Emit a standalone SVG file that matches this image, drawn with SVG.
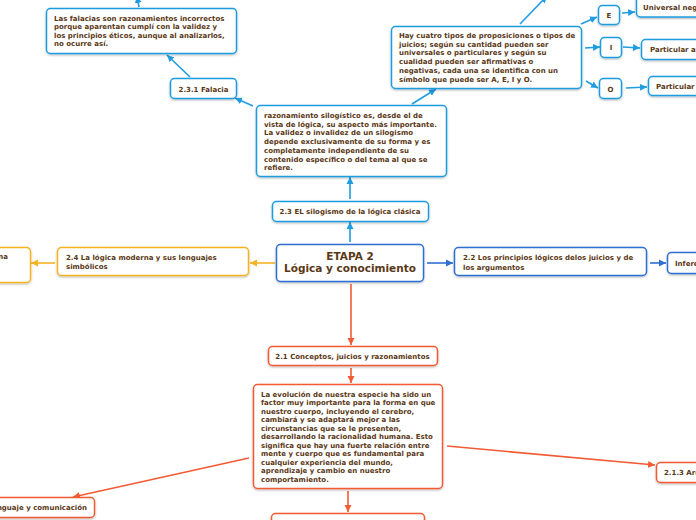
<svg xmlns="http://www.w3.org/2000/svg" width="696" height="520" viewBox="0 0 696 520">
<style>
.t{font-family:"DejaVu Sans",Verdana,sans-serif;font-weight:bold;font-size:7px;fill:#5a3816}
.c{text-anchor:middle}
.big{font-size:10.5px}
rect{fill:#fff;stroke-width:1.5;filter:url(#sh)}
.sky rect{stroke:#1e9de0}
.blu rect{stroke:#2f6fd2}
.gld rect{stroke:#f5b324}
.red rect{stroke:#f25b34}
#connectors line{stroke-width:1.6;fill:none}
.ls{stroke:#1e9de0;marker-end:url(#ms)}
.lb{stroke:#2f6fd2;marker-end:url(#mb)}
.lg{stroke:#f5b324;marker-end:url(#mg)}
.lr{stroke:#f25b34;marker-end:url(#mr)}
</style>
<defs>
<filter id="sh" x="-10%" y="-20%" width="120%" height="150%"><feDropShadow dx="0" dy="1" stdDeviation="0.8" flood-color="#000" flood-opacity="0.3"/></filter>
<marker id="ms" markerUnits="userSpaceOnUse" markerWidth="8" markerHeight="8" refX="7" refY="4" orient="auto"><path d="M0,0.5 L7,4 L0,7.5 z" fill="#1e9de0"/></marker>
<marker id="mb" markerUnits="userSpaceOnUse" markerWidth="8" markerHeight="8" refX="7" refY="4" orient="auto"><path d="M0,0.5 L7,4 L0,7.5 z" fill="#2f6fd2"/></marker>
<marker id="mg" markerUnits="userSpaceOnUse" markerWidth="8" markerHeight="8" refX="7" refY="4" orient="auto"><path d="M0,0.5 L7,4 L0,7.5 z" fill="#f5b324"/></marker>
<marker id="mr" markerUnits="userSpaceOnUse" markerWidth="8" markerHeight="8" refX="7" refY="4" orient="auto"><path d="M0,0.5 L7,4 L0,7.5 z" fill="#f25b34"/></marker>
</defs>
<g id="connectors">
<line class="lb" x1="427" y1="263" x2="453" y2="263"/>
<line class="lb" x1="650" y1="263" x2="666" y2="263"/>
<line class="ls" x1="350" y1="242" x2="350" y2="222"/>
<line class="ls" x1="350" y1="199" x2="350" y2="177"/>
<line class="ls" x1="253" y1="106" x2="235" y2="98"/>
<line class="ls" x1="190" y1="77" x2="167" y2="55"/>
<line class="ls" x1="139" y1="7" x2="137" y2="-4"/>
<line class="ls" x1="412" y1="104" x2="436" y2="89"/>
<line class="ls" x1="520" y1="24" x2="547" y2="-4"/>
<line class="ls" x1="581" y1="24" x2="597" y2="17"/>
<line class="ls" x1="585" y1="48" x2="600" y2="47"/>
<line class="ls" x1="586" y1="81" x2="598" y2="88"/>
<line class="ls" x1="622" y1="13" x2="635" y2="12"/>
<line class="ls" x1="623" y1="47" x2="640" y2="48"/>
<line class="ls" x1="626" y1="88" x2="647" y2="87"/>
<line class="lg" x1="275" y1="263" x2="250" y2="263"/>
<line class="lg" x1="55" y1="263" x2="31" y2="263"/>
<line class="lr" x1="351" y1="284" x2="351" y2="345"/>
<line class="lr" x1="351" y1="368" x2="351" y2="383"/>
<line class="lr" x1="348" y1="491" x2="348" y2="512"/>
<line class="lr" x1="249" y1="458" x2="73" y2="497"/>
<line class="lr" x1="447" y1="446" x2="655" y2="465"/>
</g>
<g id="central" class="blu">
<rect x="276.5" y="244.5" width="147" height="37" rx="4"/>
<text class="t c big" x="350" y="260">ETAPA 2</text>
<text class="t c big" x="350" y="272">Lógica y conocimiento</text>
</g>
<g id="n22" class="blu">
<rect x="454.5" y="247.5" width="192" height="28" rx="4"/>
<text class="t" x="463" y="260">2.2 Los principios lógicos delos juicios y de</text>
<text class="t" x="463" y="270">los argumentos</text>
</g>
<g id="ninfer" class="blu">
<rect x="667.5" y="252.5" width="40" height="21" rx="4"/>
<text class="t" x="675" y="266">Inferencia</text>
</g>
<g id="n23" class="sky">
<rect x="272.5" y="201.5" width="156" height="20" rx="4"/>
<text class="t c" x="350" y="214">2.3 EL silogismo de la lógica clásica</text>
</g>
<g id="nsilog" class="sky">
<rect x="256.5" y="105.5" width="190" height="71" rx="4"/>
<text class="t" x="264" y="118">razonamiento silogístico es, desde el de</text>
<text class="t" x="264" y="126.7">vista de lógica, su aspecto más importante.</text>
<text class="t" x="264" y="135.4">La validez o invalidez de un silogismo</text>
<text class="t" x="264" y="144.1">depende exclusivamente de su forma y es</text>
<text class="t" x="264" y="152.8">completamente independiente de su</text>
<text class="t" x="264" y="161.5">contenido específico o del tema al que se</text>
<text class="t" x="264" y="170.2">refiere.</text>
</g>
<g id="n231" class="sky">
<rect x="170.5" y="78.5" width="66" height="20" rx="4"/>
<text class="t c" x="203.5" y="91.5">2.3.1 Falacia</text>
</g>
<g id="nfalacias" class="sky">
<rect x="46.5" y="8.5" width="190" height="45" rx="4"/>
<text class="t" x="54" y="20.5">Las falacias son razonamientos incorrectos</text>
<text class="t" x="54" y="29">porque aparentan cumplí con la validez y</text>
<text class="t" x="54" y="37.5">los principios éticos, aunque al analizarlos,</text>
<text class="t" x="54" y="46">no ocurre así.</text>
</g>
<g id="ncuatro" class="sky">
<rect x="391.5" y="26.5" width="190" height="62" rx="4"/>
<text class="t" x="399" y="38">Hay cuatro tipos de proposiciones o tipos de</text>
<text class="t" x="399" y="46.7">juicios; según su cantidad pueden ser</text>
<text class="t" x="399" y="55.4">universales o particulares y según su</text>
<text class="t" x="399" y="64.1">cualidad pueden ser afirmativas o</text>
<text class="t" x="399" y="72.8">negativas, cada una se identifica con un</text>
<text class="t" x="399" y="81.5">símbolo que puede ser A, E, I y O.</text>
</g>
<g id="nE" class="sky">
<rect x="598.5" y="5.5" width="21" height="19" rx="4"/>
<text class="t c" x="609" y="17.5">E</text>
</g>
<g id="nI" class="sky">
<rect x="600.5" y="37.5" width="21" height="20" rx="4"/>
<text class="t c" x="611" y="50">I</text>
</g>
<g id="nO" class="sky">
<rect x="599.5" y="78.5" width="22" height="20" rx="4"/>
<text class="t c" x="610.5" y="91.5">O</text>
</g>
<g id="nUN" class="sky">
<rect x="636.5" y="-5" width="80" height="22" rx="4"/>
<text class="t" x="643" y="10">Universal negativa</text>
</g>
<g id="nPA" class="sky">
<rect x="641.5" y="39.5" width="80" height="20" rx="4"/>
<text class="t" x="650" y="52">Particular afirmativa</text>
</g>
<g id="nPN" class="sky">
<rect x="648.5" y="76.5" width="80" height="19" rx="4"/>
<text class="t" x="656" y="89">Particular negativa</text>
</g>
<g id="n24" class="gld">
<rect x="57.5" y="247.5" width="191" height="28" rx="4"/>
<text class="t" x="66" y="259.5">2.4 La lógica moderna y sus lenguajes</text>
<text class="t" x="66" y="268.5">simbólicos</text>
</g>
<g id="nleft" class="gld">
<rect x="-20" y="247.5" width="50.5" height="35" rx="4"/>
<text class="t" x="8" y="259" text-anchor="end">na</text>
</g>
<g id="n21" class="red">
<rect x="268.5" y="346.5" width="169" height="19" rx="4"/>
<text class="t c" x="352.5" y="358.5">2.1 Conceptos, juicios y razonamientos</text>
</g>
<g id="nevol" class="red">
<rect x="253.5" y="384.5" width="189" height="104" rx="4"/>
<text class="t" x="261" y="396.5">La evolución de nuestra especie ha sido un</text>
<text class="t" x="261" y="405">factor muy importante para la forma en que</text>
<text class="t" x="261" y="413.5">nuestro cuerpo, incluyendo el cerebro,</text>
<text class="t" x="261" y="422">cambiará y se adaptará mejor a las</text>
<text class="t" x="261" y="430.5">circunstancias que se le presenten,</text>
<text class="t" x="261" y="439">desarrollando la racionalidad humana. Esto</text>
<text class="t" x="261" y="447.5">significa que hay una fuerte relación entre</text>
<text class="t" x="261" y="456">mente y cuerpo que es fundamental para</text>
<text class="t" x="261" y="464.5">cualquier experiencia del mundo,</text>
<text class="t" x="261" y="473">aprendizaje y cambio en nuestro</text>
<text class="t" x="261" y="481.5">comportamiento.</text>
</g>
<g id="nbottom" class="red">
<rect x="271.5" y="513.5" width="153" height="20" rx="4"/>
</g>
<g id="nlenguaje" class="red">
<rect x="-40" y="497.5" width="134.5" height="20" rx="4"/>
<text class="t" x="87" y="510" text-anchor="end">Lenguaje y comunicación</text>
</g>
<g id="n213" class="red">
<rect x="656.5" y="462.5" width="60" height="20" rx="4"/>
<text class="t" x="664" y="475">2.1.3 Argumentos</text>
</g>
</svg>
